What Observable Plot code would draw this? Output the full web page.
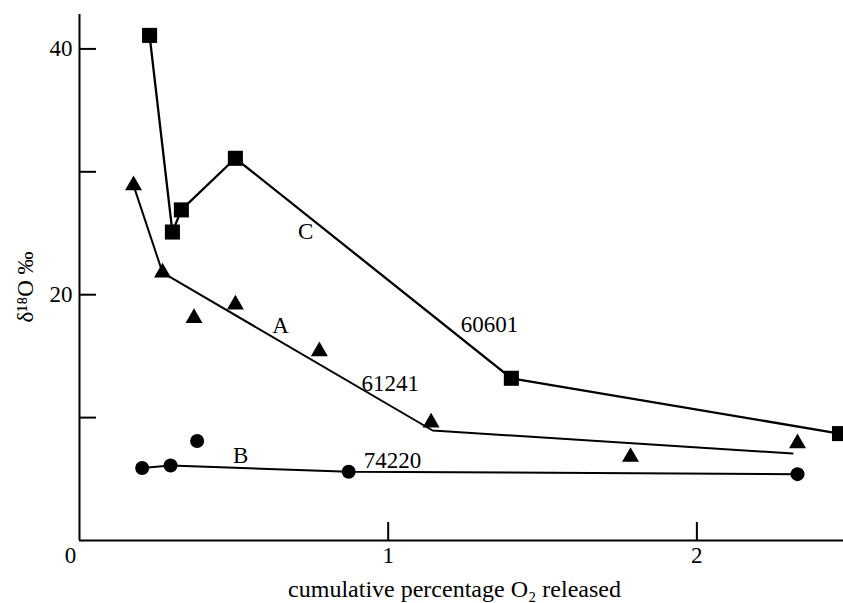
<!DOCTYPE html>
<html><head><meta charset="utf-8">
<script src="https://cdn.jsdelivr.net/npm/d3@7"></script>
<script src="https://cdn.jsdelivr.net/npm/@observablehq/plot@0.6"></script>
<style>body{margin:0;background:#fff} svg{display:block}</style>
</head><body><div id="chart"></div>
<script>
// Series C (60601) – squares, line through every point
const cX = [0.227, 0.301, 0.330, 0.505, 1.399, 2.462];
const cY = [41.1, 25.1, 26.9, 31.1, 13.2, 8.7];
// Series A (61241) – triangles and fitted line
const aX = [0.175, 0.269, 0.371, 0.505, 0.777, 1.139, 1.785, 2.326];
const aY = [28.9, 21.8, 18.1, 19.2, 15.4, 9.6, 6.8, 7.9];
const aLineX = [0.175, 0.269, 1.144, 2.310];
const aLineY = [28.9, 21.8, 8.95, 7.08];
// Series B (74220) – circles and fitted line
const bX = [0.203, 0.295, 0.381, 0.872, 2.326];
const bY = [5.9, 6.1, 8.1, 5.6, 5.4];
const bLineX = [0.203, 0.295, 0.872, 2.326];
const bLineY = [5.9, 6.1, 5.6, 5.4];
// In-plot annotations
const noteText = ["C", "A", "B", "60601", "61241", "74220"];
const noteX = [0.733, 0.651, 0.522, 1.328, 1.007, 1.014];
const noteY = [25.1, 17.5, 6.9, 17.6, 12.8, 6.5];
// Ticks
const xTicks = [1, 2];
const xOriginLabel = [0];
const yTicks = [10, 20, 30, 40];
const yTickLabels = [20, 40];
const xLabel = "cumulative percentage O₂ released";
const yLabel = "δ¹⁸O ‰";

const zip = (xs, ys) => xs.map((x, i) => [x, ys[i]]);
const W = 843, H = 603, mL = 79, mR = 0, mT = 14, mB = 63;
const font = "'Liberation Serif', 'DejaVu Serif', serif";
const fmt = d => String(d);

const plot = Plot.plot({
  width: W, height: H,
  marginLeft: mL, marginRight: mR, marginTop: mT, marginBottom: mB,
  x: {domain: [0, 2.475]},
  y: {domain: [0, 42.8]},
  style: {fontFamily: font, fontSize: "22px", background: "#fff", color: "#000", overflow: "hidden"},
  marks: [
    Plot.ruleX([0], {stroke: "#000", strokeWidth: 2}),
    Plot.ruleY([0], {stroke: "#000", strokeWidth: 2}),
    Plot.tickY(yTicks, {y: d => d, insetRight: (W - mL - mR) - 17, stroke: "#000", strokeWidth: 2}),
    Plot.tickX(xTicks, {x: d => d, insetTop: (H - mT - mB) - 18, stroke: "#000", strokeWidth: 2}),
    Plot.axisY(yTickLabels, {tickSize: 0, tickPadding: 7, fontSize: 23, fontFamily: font, tickFormat: fmt, label: null}),
    Plot.axisX(xTicks, {tickSize: 0, tickPadding: 6, fontSize: 23, fontFamily: font, tickFormat: fmt, label: null}),
    Plot.axisX(xOriginLabel, {tickSize: 0, tickPadding: 6, fontSize: 23, fontFamily: font, tickFormat: fmt, dx: -9, label: null}),
    Plot.line(zip(cX, cY), {stroke: "#000", strokeWidth: 2.3}),
    Plot.line(zip(aLineX, aLineY), {stroke: "#000", strokeWidth: 2}),
    Plot.line(zip(bLineX, bLineY), {stroke: "#000", strokeWidth: 2}),
    Plot.dot(zip(cX, cY), {x: d => d[0], y: d => d[1], symbol: "square", r: 8.5, fill: "#000", stroke: "none"}),
    Plot.dot(zip(aX, aY), {x: d => d[0], y: d => d[1], symbol: "triangle", r: 6.3, fill: "#000", stroke: "none"}),
    Plot.dot(zip(bX, bY), {x: d => d[0], y: d => d[1], symbol: "circle", r: 7, fill: "#000", stroke: "none"}),
    Plot.text(noteText.map((t, i) => ({t, x: noteX[i], y: noteY[i]})), {x: "x", y: "y", text: "t", fontSize: 23, fontFamily: font, fill: "#000"}),
    Plot.text([xLabel], {text: d => d, frameAnchor: "bottom", dy: 56, dx: -7, fontSize: 24, fontFamily: font, fill: "#000"}),
    Plot.text([yLabel], {text: d => d, frameAnchor: "left", rotate: -90, dx: -54, dy: 45, fontSize: 23, fontFamily: font, fill: "#000"})
  ]
});
d3.select(plot).selectAll("g[aria-label$='axis tick label']").attr("font-family", font).style("font-family", font);
document.getElementById("chart").appendChild(plot);
</script>
</body></html>
